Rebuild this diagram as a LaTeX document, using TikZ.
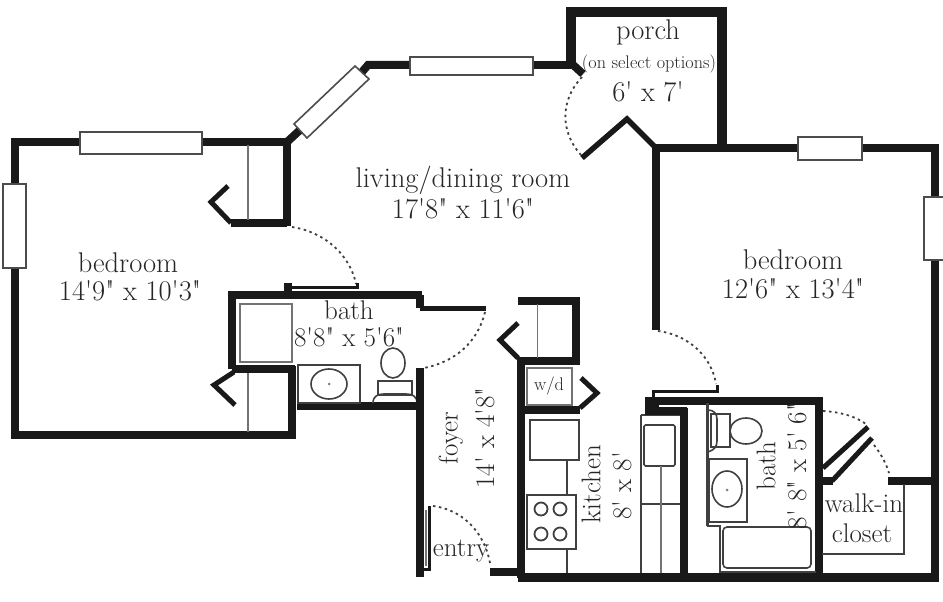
\documentclass[tikz,border=0pt]{standalone}
\usetikzlibrary{
    calc
}
\newcommand{\ft}{\textquotesingle}
\newcommand{\inch}{\textquotedbl}
\tikzset{
    % Colors
    wall color/.style={black!90},
    fixture color/.style={black!75},
    %
    % Walls
    wall/.style={wall color,line width=8pt,line join=miter},
    heavy wall/.style={wall color,line width=9.5pt,line join=miter},
    door leaf/.style={wall color,line width=5pt,line join=miter},
    slim wall/.style={wall color,line width=3pt},
    %
    % Fixtures
    fixture/.style={fixture color,line width=1.6pt},
    light fixture/.style={black!55,line width=1.8pt},
    window frame/.style={draw=black!70,fill=white,line width=1.6pt},
    swing/.style={black!75,line width=1.8pt,dash pattern=on 2.5pt off 3.5pt},
    %
    % Labels
    room label/.style={text=black!85,inner sep=0pt,font=\fontsize{28.5}{28}\selectfont},
    small label/.style={text=black!85,inner sep=0pt,font=\fontsize{18.2}{18}\selectfont},
    mid label/.style={text=black!85,inner sep=0pt,font=\fontsize{27}{27}\selectfont}
}

\begin{document}
\begin{tikzpicture}[x=1pt,y=-1pt]
    \useasboundingbox (0,0) rectangle (943,602);

    % Left bedroom
    \draw[wall] (80,142) -- (15,142) -- (15,184);
    \draw[wall] (15,268) -- (15,434.5) -- (292,434.5) -- (292,366);
    \draw[wall] (203,142) -- (287,142) -- (287,226);
    \draw[wall] (287,142) -- (300,130);
    \draw[wall] (231,223) -- (287,223);
    \draw[door leaf] (231,223) -- (211,202) -- (228,186);
    \draw[light fixture] (248,145) -- (248,220);
    \draw[light fixture] (248,372) -- (248,432);
    \draw[door leaf] (234,372) -- (214,385) -- (235,405);
    \draw[window frame] (80,132) rectangle (202,154);
    \draw[window frame] (3,184) rectangle (26,268);
    \draw[swing] (292,227) .. controls (325,232) and (350,255) .. (356,284);

    % Living room
    \draw[wall] (362,72) -- (368,65) -- (410,65);
    \draw[wall] (533,65) -- (571,65);
    \draw[wall] (571,63) -- (583,74);
    \draw[window frame] (355,66) -- (369,79) -- (307,138) -- (294,124) -- cycle;
    \draw[window frame] (410,57) rectangle (533,75);
    \draw[door leaf,line width=5.5pt] (582,158) -- (627,119) -- (657,149);
    \draw[swing] (582,77) .. controls (560,100) and (560,132) .. (581,155);

    % Porch
    \draw[heavy wall] (571,65) -- (571,12) -- (722,12) -- (722,148);

    % Right bedroom
    \draw[wall] (656,330) -- (656,148) -- (798,148);
    \draw[wall] (862,148) -- (935,148) -- (935,197);
    \draw[wall] (935,260) -- (935,578);
    \draw[window frame] (798,137) rectangle (862,160);
    \draw[window frame] (924,197) rectangle (945,260);
    \draw[swing] (658,331) .. controls (690,335) and (712,358) .. (716,384);
    \draw[slim wall] (653,398) -- (653,391) -- (717,391) -- (717,385);

    % Bath by the left bedroom
    \draw[wall] (232,369) -- (232,295) -- (422,295);
    \draw[wall] (232,369) -- (295,369);
    \draw[wall] (297,406) -- (420,406);
    \draw[wall] (420,295) -- (420,308);
    \draw[door leaf] (420,308) -- (486,308);
    \draw[wall] (288,283) -- (288,297);
    \draw[slim wall] (288,287) -- (357,287) -- (357,283);
    \draw[swing] (485,312) .. controls (478,342) and (455,362) .. (424,368);
    \draw[light fixture] (240,304) rectangle (292,362);
    \draw[fixture] (298,365) rectangle (360,403);
    \draw[fixture] (329,384) ellipse [x radius=18,y radius=15];
    \fill[black!50] (329,384) circle [radius=1.5];
    \draw[fixture] (393,363) ellipse [x radius=12,y radius=15];
    \draw[fixture] (378,381) rectangle (412,395);
    \draw[fixture] (373,403) .. controls (373,396) and (378,394) .. (384,394) -- (406,394) .. controls (412,394) and (417,396) .. (417,403);

    % Foyer
    \draw[wall] (420,368) -- (420,577);
    \draw[slim wall] (429,506) -- (429,569) -- (424,569);
    \draw[light fixture] (426,510) -- (426,566);
    \draw[swing] (433,506) .. controls (465,510) and (485,535) .. (490,563);
    \draw[wall] (490,572) -- (521,572);

    % Kitchen
    \draw[wall] (518,301) -- (576,301) -- (576,361) -- (518,361);
    \draw[wall] (521,358) -- (521,578);
    \draw[wall] (521,410) -- (580,410);
    \draw[door leaf] (518,358) -- (500,340) -- (518,323);
    \draw[door leaf] (580,408) -- (597,393) -- (581,378);
    \draw[light fixture] (537.5,304) -- (537.5,358);
    \draw[light fixture] (527,368) rectangle (572,405);
    \draw[fixture] (530,420) rectangle (579,460);
    \draw[fixture] (567,460) -- (567,495);
    \draw[fixture] (567,549) -- (567,575);
    \draw[fixture] (527,495) rectangle (576,549);
    \foreach \cx in {541,560}{
        \foreach \cy in {509,534}{
            \draw[fixture,line width=1.8pt] (\cx,\cy) circle [radius=6.5];
        }
    }
    \draw[fixture] (641,415) -- (641,575);
    \draw[fixture] (641,504) -- (681,504);
    \draw[fixture,rounded corners=1.5pt] (644,425) rectangle (675,466);
    \draw[light fixture] (661,466) -- (661,575);
    \draw[fixture] (641,415) -- (680,415);

    % Right bath
    \draw[wall] (684,408) -- (684,578);
    \draw[heavy wall,line width=14pt] (652,398) -- (652,414);
    \draw[wall] (645,411) -- (687,411);
    \draw[wall] (645,401) -- (819,401) -- (819,578);
    \draw[fixture,line width=3pt] (707,403) -- (707,526);
    \draw[fixture] (707,526) -- (720,526) -- (720,572) -- (816,572);
    \draw[fixture] (746,431) ellipse [x radius=16,y radius=13];
    \draw[fixture] (711,414) rectangle (730,447);
    \draw[fixture] (708,410) .. controls (714,410) and (717,414) .. (717,419) -- (717,441) .. controls (717,447) and (714,450) .. (708,452);
    \draw[fixture] (709,459) rectangle (747,522);
    \draw[fixture] (727,489) ellipse [x radius=15,y radius=18];
    \fill[black!50] (727,490) circle [radius=1.5];
    \draw[fixture,rounded corners=4pt] (723,527) rectangle (811,568);

    % Walk-in closet
    \draw[wall] (888,481) -- (935,481);
    \draw[wall] (822,481) -- (833,481);
    \draw[door leaf] (823,468) -- (868,427);
    \draw[door leaf] (832,481) -- (872,438);
    \draw[swing] (823,411) .. controls (840,412) and (855,416) .. (866,424);
    \draw[swing] (874,445) .. controls (881,454) and (886,463) .. (889,473);
    \draw[fixture] (904,484) -- (904,554) -- (822,554);

    % Bottom wall
    \draw[heavy wall] (518,577.5) -- (939,577.5);

    % Labels
    \node[room label] (leftname) at (128,263) {bedroom};
    \node[room label] (leftsize) at (130,291) {14\ft{}9\inch{} x 10\ft{}3\inch};
    \node[room label] (livingname) at (463,180) {living/dining room};
    \node[room label] (livingsize) at (463,209) {17\ft{}8\inch{} x 11\ft{}6\inch};
    \node[room label] (porchname) at (648,32) {porch};
    \node[small label] (porchnote) at (649,64) {(on select options)};
    \node[room label] (porchsize) at (648,92) {6\ft{} x 7\ft};
    \node[room label] (rightname) at (793,260) {bedroom};
    \node[room label] (rightsize) at (793,289) {12\ft{}6\inch{} x 13\ft{}4\inch};
    \node[mid label] (bathname) at (349,310) {bath};
    \node[mid label] (bathsize) at (349,337) {8\ft{}8\inch{} x 5\ft{}6\inch};
    \node[mid label,rotate=90] (foyername) at (451,438) {foyer};
    \node[mid label,rotate=90] (foyersize) at (485,438) {14\ft{} x 4\ft{}8\inch};
    \node[mid label,rotate=90] (kitchenname) at (591,484) {kitchen};
    \node[mid label,rotate=90] (kitchensize) at (622,486) {8\ft{} x 8\ft};
    \node[small label] (wdname) at (549,386) {w/d};
    \node[mid label,rotate=90] (rbathname) at (766,466) {bath};
    \node[mid label,rotate=90] (rbathsize) at (797,466) {8\ft{} 8\inch{} x 5\ft{} 6\inch};
    \node[mid label] (walkname) at (864,503) {walk-in};
    \node[mid label] (closetname) at (862,533) {closet};
    \node[mid label] (entryname) at (461,551) {entry};
\end{tikzpicture}
\end{document}
